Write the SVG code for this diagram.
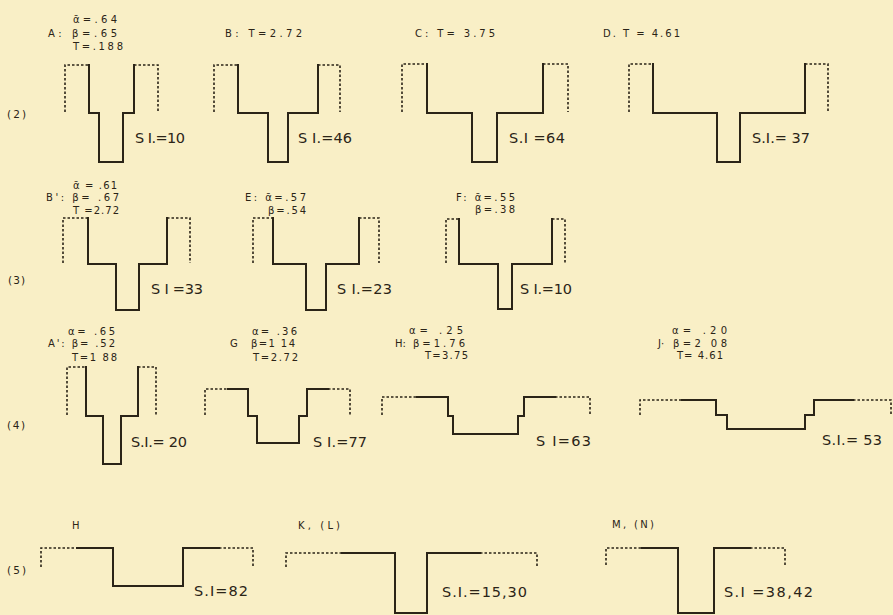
<svg xmlns="http://www.w3.org/2000/svg" width="893" height="615" viewBox="0 0 893 615">
<style>
.bg{fill:#f9efc6}
.s{fill:none;stroke:#2b2417;stroke-width:2;stroke-linejoin:miter;stroke-linecap:square}
.d{fill:none;stroke:#2b2417;stroke-width:1.6;stroke-dasharray:2.5 2}
.t{font-family:"DejaVu Sans","Liberation Sans",sans-serif;font-size:10px;fill:#2b2417}
.L{font-family:"DejaVu Sans","Liberation Sans",sans-serif;font-size:14.5px;fill:#2b2417}
.r{font-family:"DejaVu Sans","Liberation Sans",sans-serif;font-size:10.5px;fill:#2b2417}
</style>
<rect class="bg" x="0" y="0" width="893" height="615"/>
<g id="row-labels">
<text class="r" x="7" y="118" textLength="19" lengthAdjust="spacing">(2)</text>
<text class="r" x="8" y="284" textLength="17" lengthAdjust="spacing">(3)</text>
<text class="r" x="7" y="429" textLength="18" lengthAdjust="spacing">(4)</text>
<text class="r" x="7" y="574" textLength="19" lengthAdjust="spacing">(5)</text>
</g>
<g id="node-A">
<path class="d" d="M65 112 V65 H89 M134 65 H158 V112"/>
<path class="s" d="M89 65 V113 H99 V162 H123 V113 H134 V65"/>
<text class="t" x="73" y="23" textLength="44" lengthAdjust="spacing">ᾱ=.64</text>
<text class="t" x="48" y="37" textLength="69" lengthAdjust="spacing">A: β=.65</text>
<text class="t" x="73" y="50" textLength="50" lengthAdjust="spacing">T=.188</text>
<text class="L" x="135" y="143" textLength="50" lengthAdjust="spacing">S I.=10</text>
</g>
<g id="node-B">
<path class="d" d="M214 112 V65 H238 M318 65 H340 V112"/>
<path class="s" d="M238 65 V113 H268 V162 H288 V113 H318 V65"/>
<text class="t" x="225" y="37" textLength="77" lengthAdjust="spacing">B: T=2.72</text>
<text class="L" x="298" y="143" textLength="54" lengthAdjust="spacing">S I.=46</text>
</g>
<g id="node-C">
<path class="d" d="M402 112 V64 H427 M543 64 H568 V112"/>
<path class="s" d="M427 64 V113 H472 V162 H497 V113 H543 V64"/>
<text class="t" x="415" y="37" textLength="80" lengthAdjust="spacing">C: T= 3.75</text>
<text class="L" x="509" y="143" textLength="56" lengthAdjust="spacing">S.I =64</text>
</g>
<g id="node-D">
<path class="d" d="M629 112 V64 H653 M805 64 H828 V112"/>
<path class="s" d="M653 64 V113 H717 V162 H740 V113 H805 V64"/>
<text class="t" x="603" y="37" textLength="77" lengthAdjust="spacing">D. T = 4.61</text>
<text class="L" x="752" y="143" textLength="58" lengthAdjust="spacing">S.I.= 37</text>
</g>
<g id="node-B-prime">
<path class="d" d="M63 263 V218 H88 M167 218 H190 V263"/>
<path class="s" d="M88 218 V264 H116 V310 H139 V264 H167 V218"/>
<text class="t" x="73" y="189" textLength="44" lengthAdjust="spacing">ᾱ = .61</text>
<text class="t" x="46" y="201" textLength="73" lengthAdjust="spacing">B': β= .67</text>
<text class="t" x="73" y="214" textLength="46" lengthAdjust="spacing">T =2.72</text>
<text class="L" x="151" y="294" textLength="52" lengthAdjust="spacing">S I =33</text>
</g>
<g id="node-E">
<path class="d" d="M253 263 V218 H273 M359 218 H379 V263"/>
<path class="s" d="M273 218 V264 H306 V310 H326 V264 H359 V218"/>
<text class="t" x="245" y="201" textLength="61" lengthAdjust="spacing">E: ᾱ=.57</text>
<text class="t" x="268" y="214" textLength="38" lengthAdjust="spacing">β=.54</text>
<text class="L" x="337" y="294" textLength="55" lengthAdjust="spacing">S I.=23</text>
</g>
<g id="node-F">
<path class="d" d="M446 263 V219 H459 M552 219 H565 V263"/>
<path class="s" d="M459 219 V264 H498 V309 H512 V264 H552 V219"/>
<text class="t" x="456" y="201" textLength="59" lengthAdjust="spacing">F: ᾱ=.55</text>
<text class="t" x="475" y="213" textLength="40" lengthAdjust="spacing">β=.38</text>
<text class="L" x="520" y="294" textLength="52" lengthAdjust="spacing">S I.=10</text>
</g>
<g id="node-A-prime">
<path class="d" d="M67 415 V367 H86 M138 367 H156 V415"/>
<path class="s" d="M86 367 V416 H103 V464 H121 V416 H138 V367"/>
<text class="t" x="68" y="335" textLength="47" lengthAdjust="spacing">α= .65</text>
<text class="t" x="48" y="347" textLength="67" lengthAdjust="spacing">A': β= .52</text>
<text class="t" x="72" y="361" textLength="45" lengthAdjust="spacing">T=1 88</text>
<text class="L" x="131" y="447" textLength="56" lengthAdjust="spacing">S.I.= 20</text>
</g>
<g id="node-G">
<path class="d" d="M205 415 V389 H228 M328 389 H350 V415"/>
<path class="s" d="M228 389 H248 V416 H257 V443 H299 V416 H307 V389 H328"/>
<text class="t" x="252" y="335" textLength="45" lengthAdjust="spacing">α= .36</text>
<text class="t" x="230" y="347">G</text>
<text class="t" x="251" y="347" textLength="44" lengthAdjust="spacing">β=1 14</text>
<text class="t" x="253" y="361" textLength="45" lengthAdjust="spacing">T=2.72</text>
<text class="L" x="313" y="447" textLength="54" lengthAdjust="spacing">S I.=77</text>
</g>
<g id="node-H">
<path class="d" d="M382 415 V397 H417 M555 397 H590 V415"/>
<path class="s" d="M417 397 H448 V416 H453 V434 H518 V416 H524 V397 H555"/>
<text class="t" x="409" y="334" textLength="54" lengthAdjust="spacing">α= .25</text>
<text class="t" x="395" y="347">H:</text>
<text class="t" x="413" y="347" textLength="52" lengthAdjust="spacing">β=1.76</text>
<text class="t" x="425" y="359" textLength="43" lengthAdjust="spacing">T=3.75</text>
<text class="L" x="536" y="446" textLength="55" lengthAdjust="spacing">S I=63</text>
</g>
<g id="node-J">
<path class="d" d="M640 415 V400 H682 M853 400 H891 V415"/>
<path class="s" d="M682 400 H716 V415 H727 V429 H805 V415 H814 V400 H853"/>
<text class="t" x="672" y="334" textLength="55" lengthAdjust="spacing">α=  .20</text>
<text class="t" x="658" y="347">J·</text>
<text class="t" x="673" y="347" textLength="54" lengthAdjust="spacing">β=2 08</text>
<text class="t" x="677" y="359" textLength="46" lengthAdjust="spacing">T= 4.61</text>
<text class="L" x="822" y="445" textLength="60" lengthAdjust="spacing">S.I.= 53</text>
</g>
<g id="node-H5">
<path class="d" d="M41 567 V548 H77 M219 548 H253 V567"/>
<path class="s" d="M77 548 H113 V586 H183 V548 H219"/>
<text class="t" x="72" y="529">H</text>
<text class="L" x="194" y="596" textLength="54" lengthAdjust="spacing">S.I=82</text>
</g>
<g id="node-K">
<path class="d" d="M286 567 V553 H342 M480 553 H537 V567"/>
<path class="s" d="M342 553 H395 V613 H427 V553 H480"/>
<text class="t" x="298" y="529" textLength="42" lengthAdjust="spacing">K, (L)</text>
<text class="L" x="442" y="597" textLength="85" lengthAdjust="spacing">S.I.=15,30</text>
</g>
<g id="node-M">
<path class="d" d="M606 565 V548 H642 M750 548 H785 V565"/>
<path class="s" d="M642 548 H678 V613 H714 V548 H750"/>
<text class="t" x="612" y="528" textLength="42" lengthAdjust="spacing">M, (N)</text>
<text class="L" x="724" y="597" textLength="89" lengthAdjust="spacing">S.I =38,42</text>
</g>
<g id="connectors"/>
</svg>
